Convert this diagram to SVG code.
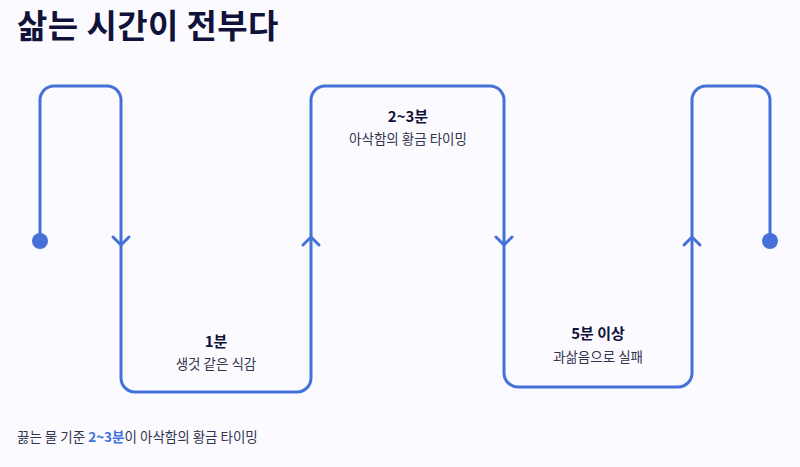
<svg xmlns="http://www.w3.org/2000/svg" width="800" height="467" viewBox="0 0 800 467">
<style>
text{font-family:"Noto Sans CJK KR","Noto Sans",sans-serif;}
.title{font-size:33px;font-weight:700;fill:#10123a;letter-spacing:0.4px;}
.h{font-size:15px;font-weight:700;fill:#10123a;text-anchor:middle;}
.s{font-size:13.5px;fill:#33354f;text-anchor:middle;}
.foot{font-size:13.5px;fill:#33354f;}
.blue{fill:#3f6fe0;font-weight:700;}
.line{fill:none;stroke:#4470d8;stroke-width:3;stroke-linecap:round;stroke-linejoin:round;}
.dot{fill:#4470d8;}
</style>
<rect width="800" height="467" fill="#fbfaff"/>
<text class="title" x="17" y="38">삶는 시간이 전부다</text>
<g id="connectors">
<path class="line" d="M40,241 V100 A14,14 0 0 1 54,86 H107 A14,14 0 0 1 121,100 V378 A14,14 0 0 0 135,392 H297 A14,14 0 0 0 311,378 V100 A14,14 0 0 1 325,86 H490 A14,14 0 0 1 504,100 V373 A14,14 0 0 0 518,387 H678 A14,14 0 0 0 692,373 V100 A14,14 0 0 1 706,86 H756 A14,14 0 0 1 770,100 V241"/>
<path class="line" d="M113,237 L121,245 L129,237"/>
<path class="line" d="M303,245 L311,237 L319,245"/>
<path class="line" d="M496,237 L504,245 L512,237"/>
<path class="line" d="M684,245 L692,237 L700,245"/>
</g>
<g id="start"><circle class="dot" cx="40" cy="241" r="8"/></g>
<g id="end"><circle class="dot" cx="770" cy="241" r="8"/></g>
<g id="stage-1min">
<text class="h" x="216" y="347">1분</text>
<text class="s" x="216" y="369">생것 같은 식감</text>
</g>
<g id="stage-2-3min">
<text class="h" x="408" y="122">2~3분</text>
<text class="s" x="408" y="144">아삭함의 황금 타이밍</text>
</g>
<g id="stage-5min">
<text class="h" x="598" y="339">5분 이상</text>
<text class="s" x="598" y="362">과삶음으로 실패</text>
</g>
<text class="foot" x="17" y="442">끓는 물 기준 <tspan class="blue">2~3분</tspan>이 아삭함의 황금 타이밍</text>
</svg>
